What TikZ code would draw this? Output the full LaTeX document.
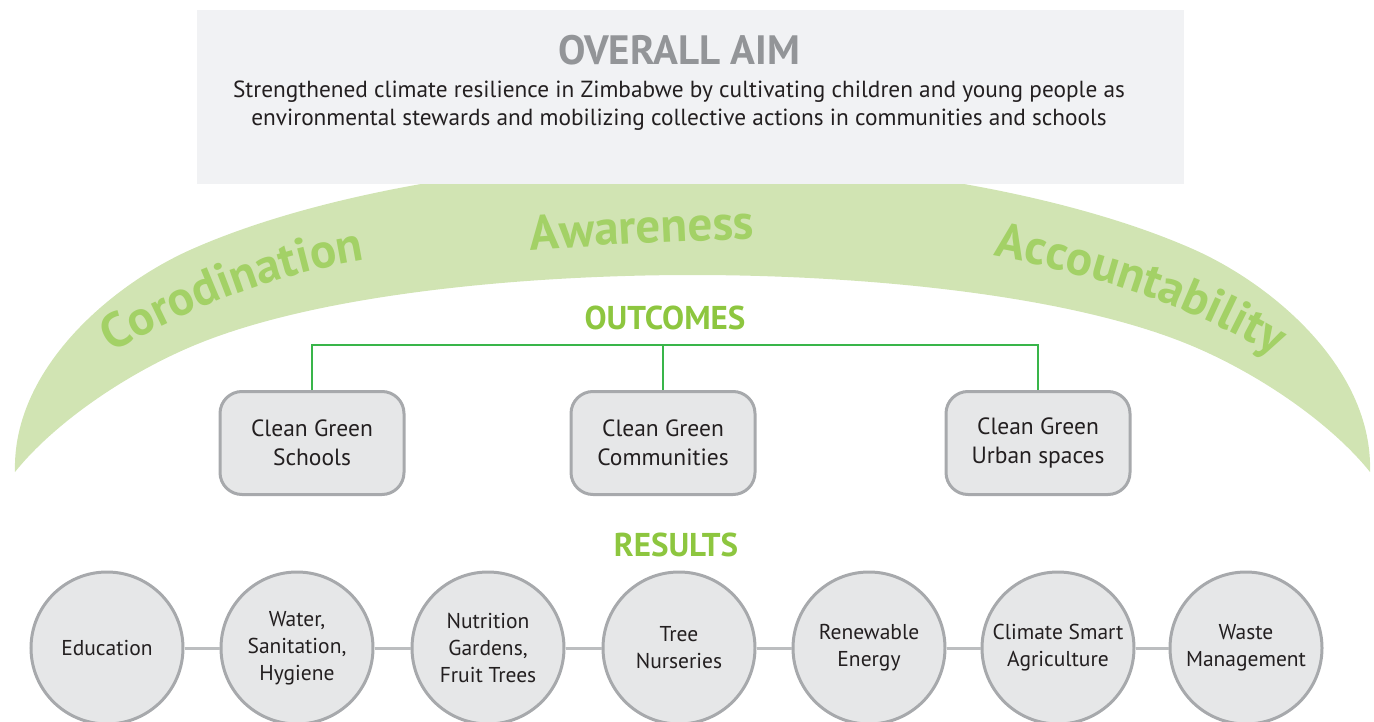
\documentclass[tikz,border=0pt]{standalone}
\usepackage{fontspec}
\setmainfont{PT Sans}
\usetikzlibrary{decorations.text}

\definecolor{bandgreen}{HTML}{D1E4B3}
\definecolor{bandtext}{HTML}{A3D166}
\definecolor{headgreen}{HTML}{8DC63F}
\definecolor{linegreen}{HTML}{39B54A}
\definecolor{boxfill}{HTML}{E6E7E8}
\definecolor{boxedge}{HTML}{A7A9AC}
\definecolor{linkgrey}{HTML}{BCBEC0}
\definecolor{aimfill}{HTML}{F1F2F4}
\definecolor{aimgrey}{HTML}{939598}
\definecolor{ink}{HTML}{231F20}

\newcommand{\bandfont}{\fontsize{49}{49}\selectfont\bfseries\color{bandtext}}

\tikzset{
  outbox/.style={draw=boxedge, fill=boxfill, line width=3pt, rounded corners=22pt,
    minimum width=184pt, minimum height=103pt, align=center, text=ink,
    font=\fontsize{23.5}{29}\selectfont},
  resultcircle/.style={circle, draw=boxedge, fill=boxfill, line width=3pt,
    minimum size=152pt, inner sep=0pt, align=center, text=ink,
    font=\fontsize{21.5}{27}\selectfont},
  heading/.style={text=headgreen, font=\fontsize{33}{33}\selectfont\bfseries},
  outline/.style={linegreen, line width=1.5pt},
  link/.style={linkgrey, line width=3pt},
  bandlabel/.style={decorate, decoration={text along path, text align=center, text={#1}}}
}

\begin{document}
\begin{tikzpicture}[x=1pt, y=-1pt]
  \useasboundingbox (0,0) rectangle (1374,722);

  % arc band
  \fill[bandgreen] (15,472) .. controls (12,370) and (110,286) .. (190,250)
    .. controls (320,192) and (520,160) .. (692.5,160)
    .. controls (865,160) and (1065,192) .. (1195,250)
    .. controls (1275,286) and (1373,370) .. (1370,472)
    .. controls (1330,422) and (1255,371) .. (1185,343)
    .. controls (1055,291) and (845,275) .. (692.5,275)
    .. controls (540,275) and (330,291) .. (200,343)
    .. controls (130,371) and (55,422) .. (15,472) -- cycle;

  % overall aim
  \fill[aimfill] (197,10) rectangle (1184,184);
  \node[text=aimgrey, font=\fontsize{41}{41}\selectfont\bfseries] (aim) at (679,50) {OVERALL AIM};
  \node[text=ink, align=center, font=\fontsize{23.3}{28}\selectfont] (aimtext) at (679,106)
    {Strengthened climate resilience in Zimbabwe by cultivating children and young people as\\
     environmental stewards and mobilizing collective actions in communities and schools};

  % words on the band
  \path[bandlabel={|\bandfont|Corodination}] (88,366) .. controls (170,318) and (270,270) .. (392,256);
  \path[bandlabel={|\bandfont|Awareness}] (505,252) .. controls (600,245) and (690,240) .. (780,238);
  \path[bandlabel={|\bandfont|Accountability}] (970,252) .. controls (1080,270) and (1190,302) .. (1295,368);

  % outcomes
  \node[heading] (outcomes) at (665,318) {OUTCOMES};
  \node[outbox] (schools) at (312,443) {Clean Green\\Schools};
  \node[outbox] (communities) at (663,443) {Clean Green\\Communities};
  \node[outbox] (urban) at (1038,443) {Clean Green\\Urban spaces};
  \draw[outline] (schools.north) -- ++(0,-45) -| (urban.north);
  \draw[outline] (communities.north) -- ++(0,-45);

  % results
  \node[heading] (results) at (676,545) {RESULTS};
  \node[resultcircle] (r1) at (107,648) {Education};
  \node[resultcircle] (r2) at (297,648) {Water,\\Sanitation,\\Hygiene};
  \node[resultcircle] (r3) at (488,648) {Nutrition\\Gardens,\\Fruit Trees};
  \node[resultcircle] (r4) at (679,648) {Tree\\Nurseries};
  \node[resultcircle] (r5) at (869,648) {Renewable\\Energy};
  \node[resultcircle] (r6) at (1058,648) {Climate Smart\\Agriculture};
  \node[resultcircle] (r7) at (1246,648) {Waste\\Management};
  \foreach \a/\b in {r1/r2, r2/r3, r3/r4, r4/r5, r5/r6, r6/r7}
    \draw[link] (\a) -- (\b);
\end{tikzpicture}
\end{document}
